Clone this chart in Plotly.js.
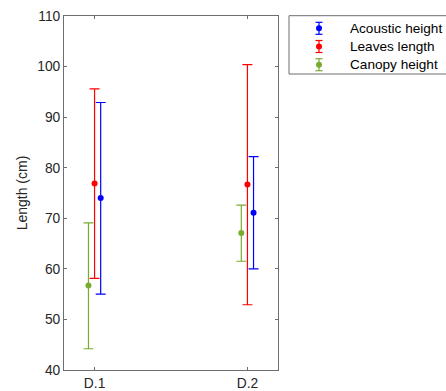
<!DOCTYPE html>
<html><head><meta charset="utf-8">
<script src="https://cdn.plot.ly/plotly-3.0.1.min.js"></script>
<style>body{margin:0;background:#fff}#c{width:446px;height:391px}</style>
</head><body><div id="c"></div>
<script>
const categories = ['D.1', 'D.2'];
const catPos = [1, 2];
const seriesNames = ['Acoustic height', 'Leaves length', 'Canopy height'];
const acousticMean = [74.0, 71.1];
const acousticUpper = [92.9, 82.2];
const acousticLower = [55.0, 60.0];
const leavesMean = [76.9, 76.7];
const leavesUpper = [95.6, 100.4];
const leavesLower = [58.1, 52.9];
const canopyMean = [56.7, 67.1];
const canopyUpper = [69.1, 72.6];
const canopyLower = [44.2, 61.5];
const seriesColors = ['#0000ff', '#ff0000', '#77ac30'];
const yTicks = [40, 50, 60, 70, 80, 90, 100, 110];

const FONT = 'Liberation Sans, Arial, sans-serif';
function mk(name, mean, up, lo, color, off) {
  return {
    type: 'scatter', mode: 'markers', name: name,
    x: catPos.map(v => v + off), y: mean,
    marker: {color: color, size: 6},
    error_y: {type: 'data', symmetric: false,
      array: up.map((u, i) => u - mean[i]),
      arrayminus: lo.map((l, i) => mean[i] - l),
      color: color, thickness: 1.2, width: 5}
  };
}
const data = [
  mk(seriesNames[0], acousticMean, acousticUpper, acousticLower, seriesColors[0], 0.04),
  mk(seriesNames[1], leavesMean, leavesUpper, leavesLower, seriesColors[1], 0),
  mk(seriesNames[2], canopyMean, canopyUpper, canopyLower, seriesColors[2], -0.04)
];
const axisCommon = {showgrid: false, zeroline: false, showline: true, mirror: 'ticks',
  linecolor: '#6e6e6e', linewidth: 1, ticks: 'inside', ticklen: 3, tickcolor: '#6e6e6e',
  tickfont: {family: FONT, size: 13.8, color: '#262626'}};

// hand-built legend (box, error-bar glyphs, labels) in paper coordinates
const L = 64, R = 278, T = 16, B = 370;
const px = p => (p - L) / (R - L);
const py = p => (B - p) / (B - T);
const iconX = 319, textX = 348, rows = [28.3, 46.5, 64.7];
const shapes = [{type: 'rect', xref: 'paper', yref: 'paper', x0: px(289), x1: px(452), y0: py(15.7), y1: py(74),
  line: {color: '#6e6e6e', width: 1}, fillcolor: 'rgba(0,0,0,0)'}];
const annotations = [];
rows.forEach((r, i) => {
  const c = seriesColors[i];
  const ln = (x0, y0, x1, y1) => ({type: 'line', xref: 'paper', yref: 'paper', x0: px(x0), x1: px(x1), y0: py(y0), y1: py(y1), line: {color: c, width: 1.2}});
  shapes.push(ln(iconX, r - 6, iconX, r + 6));
  shapes.push(ln(iconX - 3.5, r - 6, iconX + 3.5, r - 6));
  shapes.push(ln(iconX - 3.5, r + 6, iconX + 3.5, r + 6));
  shapes.push({type: 'circle', xref: 'paper', yref: 'paper', x0: px(iconX - 3), x1: px(iconX + 3), y0: py(r - 3), y1: py(r + 3),
    fillcolor: c, line: {color: c, width: 0}});
  annotations.push({xref: 'paper', yref: 'paper', x: px(textX), y: py(r), xanchor: 'left', yanchor: 'middle',
    showarrow: false, text: seriesNames[i], font: {family: FONT, size: 13.6, color: '#000'}});
});

const layout = {
  width: 446, height: 391,
  margin: {l: L, r: 446 - R, t: T, b: 391 - B, autoexpand: false},
  paper_bgcolor: '#fff', plot_bgcolor: '#fff',
  showlegend: false,
  shapes: shapes,
  annotations: annotations,
  xaxis: Object.assign({}, axisCommon, {range: [0.8, 2.2], tickvals: catPos, ticktext: categories}),
  yaxis: Object.assign({}, axisCommon, {range: [40, 110], tickvals: yTicks,
    title: {text: 'Length (cm)', standoff: 6, font: {family: FONT, size: 14, color: '#262626'}}})
};
Plotly.newPlot('c', data, layout, {displayModeBar: false, staticPlot: true});
</script></body></html>
